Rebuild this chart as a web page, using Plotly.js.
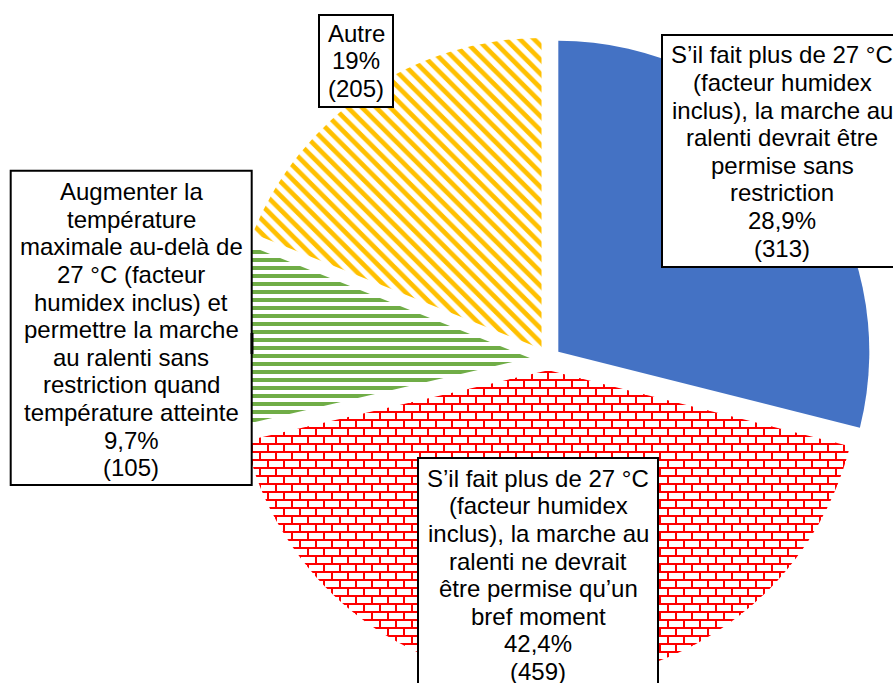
<!DOCTYPE html>
<html><head><meta charset="utf-8">
<script src="https://cdn.plot.ly/plotly-3.0.1.min.js"></script>
<style>html,body{margin:0;padding:0;overflow:hidden;background:#fff;width:893px;height:683px}#chart{width:950px;height:700px}</style>
</head><body><div id="chart"></div>
<script>
// ---- data ----
const categories = [
  "S’il fait plus de 27 °C (facteur humidex inclus), la marche au ralenti devrait être permise sans restriction",
  "S’il fait plus de 27 °C (facteur humidex inclus), la marche au ralenti ne devrait être permise qu’un bref moment",
  "Augmenter la température maximale au-delà de 27 °C (facteur humidex inclus) et permettre la marche au ralenti sans restriction quand température atteinte",
  "Autre"
];
const counts = [313, 459, 105, 205];
const percentLabels = ["28,9%", "42,4%", "9,7%", "19%"];
const labelLines = [
  ["S’il fait plus de 27 °C", "(facteur humidex", "inclus), la marche au", "ralenti devrait être", "permise sans", "restriction"],
  ["S’il fait plus de 27 °C", "(facteur humidex", "inclus), la marche au", "ralenti ne devrait", "être permise qu’un", "bref moment"],
  ["Augmenter la", "température", "maximale au-delà de", "27 °C (facteur", "humidex inclus) et", "permettre la marche", "au ralenti sans", "restriction quand", "température atteinte"],
  ["Autre"]
];
const sliceColors = ["#4472C4", "#FF0000", "#70AD47", "#FFC000"];
const slicePatterns = ["", "+", "-", "\\"];
const slicePulls = [0.04, 0.035, 0.06, 0.04];

// ---- layout constants (pixels) ----
const W = 950, H = 700;
const CX = 548.5, CY = 359.3, R = 311;
const half = R * (1 + Math.max(...slicePulls));
const labelBoxes = [
  {x0: 662, x1: 902, y0: 35, y1: 267, first: 55},
  {x0: 418, x1: 658, y0: 458, y1: 740, first: 478.3},
  {x0: 10.7, x1: 251.7, y0: 170.7, y1: 485, first: 191.7},
  {x0: 319, x1: 393, y0: 15, y1: 107, first: 33.3}
];
const LINE = 27.6;
const FONT = {family: "Arial, 'Liberation Sans', sans-serif", size: 24, color: "#000"};

const px = x => x / W, py = y => 1 - y / H;

const trace = {
  type: "pie",
  labels: categories,
  values: counts,
  sort: false,
  direction: "clockwise",
  rotation: 0,
  pull: slicePulls,
  marker: {
    colors: sliceColors,
    line: {width: 0},
    pattern: {
      shape: slicePatterns,
      fgcolor: sliceColors,
      bgcolor: "white",
      size: [8, 8, 8, 10],
      solidity: [0.5, 0.3, 0.5, 0.47],
      fillmode: "replace"
    }
  },
  textinfo: "none",
  hoverinfo: "skip",
  showlegend: false,
  domain: {x: [px(CX - half), px(CX + half)], y: [py(CY + half), py(CY - half)]}
};

const shapes = [], annotations = [];
labelBoxes.forEach((b, i) => {
  shapes.push({type: "rect", xref: "paper", yref: "paper", x0: px(b.x0), x1: px(b.x1), y0: py(b.y1), y1: py(b.y0),
    fillcolor: "white", line: {color: "#000", width: 2}, layer: "above"});
  const lines = labelLines[i].concat([percentLabels[i], "(" + counts[i] + ")"]);
  const cx = (b.x0 + b.x1) / 2;
  lines.forEach((t, k) => {
    annotations.push({xref: "paper", yref: "paper", x: px(cx), y: py(b.first + k * LINE), xanchor: "center", yanchor: "middle",
      text: t, showarrow: false, font: FONT});
  });
});
// short leader-line stub on the right edge of the green label box
shapes.push({type: "line", xref: "paper", yref: "paper", x0: px(252), x1: px(252), y0: py(333), y1: py(354),
  line: {color: "#000", width: 3}, layer: "above"});

const layout = {
  width: W, height: H,
  margin: {l: 0, r: 0, t: 0, b: 0},
  paper_bgcolor: "white",
  plot_bgcolor: "white",
  showlegend: false,
  shapes, annotations
};

Plotly.newPlot("chart", [trace], layout, {staticPlot: true}).then(() => {
  // turn the red grid pattern into a brick pattern
  const surfaces = document.querySelectorAll("#chart .slice path.surface");
  const red = surfaces[1];
  if (!red) return;
  const f = (red.style.fill || red.getAttribute("fill") || "");
  const m = f.match(/#([^"')\s]+)/);
  if (!m) return;
  const pat = document.getElementById(m[1]);
  if (!pat) return;
  pat.setAttribute("width", "16");
  pat.setAttribute("height", "16");
  const rect = pat.querySelector("rect");
  if (rect) { rect.setAttribute("width", "16"); rect.setAttribute("height", "16"); }
  const p = pat.querySelector("path");
  if (p) {
    p.setAttribute("d", "M0,4H16M0,12H16M4,4V12M12,12V16M12,0V4");
    p.style.strokeWidth = "2px";
    p.style.fill = "none";
  }
});
</script>
</body></html>
